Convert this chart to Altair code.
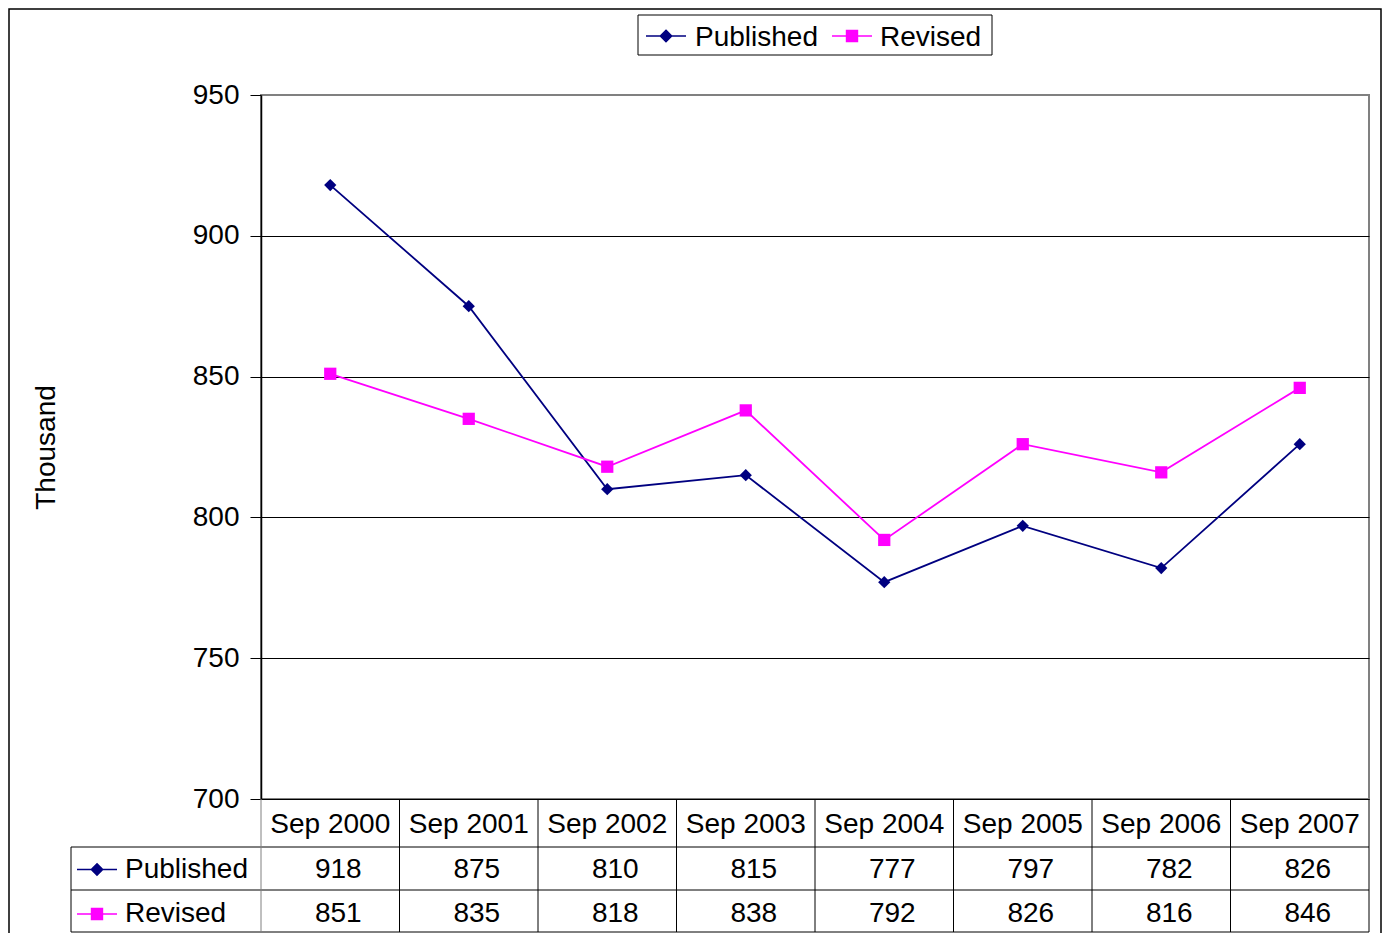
import altair as alt
import pandas as pd

categories = ["Sep 2000", "Sep 2001", "Sep 2002", "Sep 2003",
              "Sep 2004", "Sep 2005", "Sep 2006", "Sep 2007"]
published = [918, 875, 810, 815, 777, 797, 782, 826]
revised = [851, 835, 818, 838, 792, 826, 816, 846]
series_names = ["Published", "Revised"]
series_colors = ["#000080", "#FF00FF"]
series_shapes = ["diamond", "square"]
y_ticks = [700, 750, 800, 850, 900, 950]
axis_title = "Thousand"

FONT = "Liberation Sans"
FS = 28
W, H = 1108, 704

# long table
rows = []
for i, (s, vals) in enumerate(zip(series_names, [published, revised])):
    for c, v in zip(categories, vals):
        rows.append({"cat": c, "series": s, "value": v, "row": i + 1})
df = pd.DataFrame(rows)
hdr = pd.DataFrame({"cat": categories, "row": [0] * len(categories)})
ser = pd.DataFrame({"series": series_names, "row": [1, 2]})
one = pd.DataFrame({"a": [0]})

# legend-style symbols (line + marker) as custom paths
sym_paths = {
    "Published": "M-1,0L1,0M0,-0.28L0.28,0L0,0.28L-0.28,0Z",
    "Revised": "M-1,0L1,0M-0.27,-0.27L0.27,-0.27L0.27,0.27L-0.27,0.27Z",
}

x_enc = alt.X("cat:N", sort=categories,
              scale=alt.Scale(type="band", domain=categories, paddingInner=0, paddingOuter=0),
              axis=None)
y_enc = alt.Y("value:Q",
              scale=alt.Scale(domain=[700, 950], nice=False, zero=False),
              axis=alt.Axis(values=y_ticks, grid=True,
                            gridColor={"condition": {"test": "datum.value === 950", "value": "#808080"}, "value": "black"},
                            gridWidth=1,
                            domainColor="black", domainWidth=1.5,
                            tickColor="black", tickSize=11, tickWidth=1,
                            labelFont=FONT, labelFontSize=FS, labelColor="black", labelPadding=11,
                            title=axis_title, titleFont=FONT, titleFontSize=FS, titleFontWeight="normal",
                            titleColor="black", titleX=-215, titleY=352, titleAngle=270,
                            titleAlign="center", titleBaseline="middle"))
row_enc = alt.Y("row:Q", scale=alt.Scale(domain=[0, 2], range=[730, 819]), axis=None)

color_enc = alt.Color("series:N", scale=alt.Scale(domain=series_names, range=series_colors), legend=None)
shape_enc = alt.Shape("series:N", scale=alt.Scale(domain=series_names, range=series_shapes), legend=None)

lines = alt.Chart(df).mark_line(strokeWidth=1.8).encode(
    x=x_enc, y=y_enc, color=color_enc, detail="series:N")
points = alt.Chart(df).mark_point(filled=True, size=150, opacity=1).encode(
    x=x_enc, y=y_enc, color=color_enc, shape=shape_enc)

main = alt.layer(lines, points)

# outer chart border
outer = alt.Chart(one).mark_rect(fillOpacity=0, stroke="black", strokeWidth=1.5).encode(
    x=alt.value(-252), x2=alt.value(1120), y=alt.value(-86), y2=alt.value(900))

# top legend
leg_box = alt.Chart(one).mark_rect(fill="white", stroke="black", strokeWidth=1).encode(
    x=alt.value(377), x2=alt.value(731), y=alt.value(-80), y2=alt.value(-40))
legend_layers = [leg_box]
leg_sym_x = [405, 591]
leg_txt_x = [434, 619]
for i, s in enumerate(series_names):
    sub = ser[ser.series == s]
    legend_layers.append(alt.Chart(sub).mark_point(
        shape=sym_paths[s], size=1600, filled=True, fill=series_colors[i],
        stroke=series_colors[i], strokeWidth=1.6, opacity=1).encode(
        x=alt.value(leg_sym_x[i]), y=alt.value(-59)))
    legend_layers.append(alt.Chart(sub).mark_text(
        font=FONT, fontSize=FS, align="left", baseline="middle", color="black").encode(
        x=alt.value(leg_txt_x[i]), y=alt.value(-57), text="series:N"))

# data table
tbl_layers = []
for yv in [752, 795, 837]:
    tbl_layers.append(alt.Chart(one).mark_rule(color="black", strokeWidth=1).encode(
        x=alt.value(-190), x2=alt.value(W), y=alt.value(yv)))
tbl_layers.append(alt.Chart(one).mark_rule(color="black", strokeWidth=1).encode(
    x=alt.value(-190), y=alt.value(752), y2=alt.value(837)))
tbl_layers.append(alt.Chart(hdr).mark_rule(strokeWidth=1).encode(
    x=alt.X("cat:N", sort=categories, bandPosition=0,
            scale=alt.Scale(type="band", domain=categories, paddingInner=0, paddingOuter=0), axis=None),
    y=alt.value(H), y2=alt.value(837),
    color=alt.condition(alt.datum.cat == categories[0], alt.value("#808080"), alt.value("black"))))
tbl_layers.append(alt.Chart(one).mark_rule(color="black", strokeWidth=1).encode(
    x=alt.value(W), y=alt.value(H), y2=alt.value(837)))
tbl_layers.append(alt.Chart(hdr).mark_text(font=FONT, fontSize=FS, baseline="middle", color="black").encode(
    x=x_enc, y=row_enc, text="cat:N"))
tbl_layers.append(alt.Chart(df).mark_text(font=FONT, fontSize=FS, baseline="middle", color="black", dx=8).encode(
    x=x_enc, y=row_enc, text="value:Q"))
for i, s in enumerate(series_names):
    sub = ser[ser.series == s]
    tbl_layers.append(alt.Chart(sub).mark_point(
        shape=sym_paths[s], size=1600, filled=True, fill=series_colors[i],
        stroke=series_colors[i], strokeWidth=1.6, opacity=1).encode(
        x=alt.value(-164), y=row_enc))
    tbl_layers.append(alt.Chart(sub).mark_text(
        font=FONT, fontSize=FS, align="left", baseline="middle", color="black").encode(
        x=alt.value(-136), y=row_enc, text="series:N"))

chart = alt.layer(outer, main, *tbl_layers, *legend_layers).resolve_scale(
    y="independent"
).properties(
    width=W, height=H,
    padding={"left": 253, "top": 87, "right": 13, "bottom": 134},
    autosize=alt.AutoSizeParams(type="none"),
    background="white",
).configure_view(stroke="#808080", strokeWidth=2)

chart.save("out.html", embed_options={"renderer": "svg", "actions": False})
